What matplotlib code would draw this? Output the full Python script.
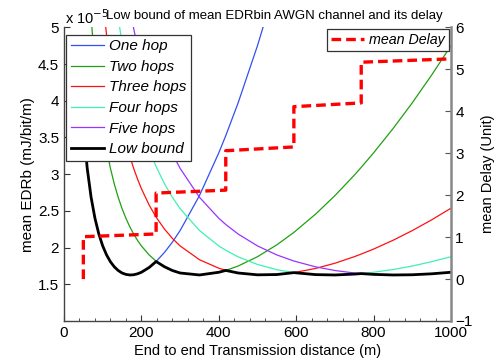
import matplotlib
matplotlib.use('Agg')
import matplotlib.pyplot as plt
import numpy as np
from matplotlib.ticker import MultipleLocator

# ---- data (EDRb in units of 1e-5 mJ/bit/m) ----
distance = [50, 60, 70, 80, 90, 100, 110, 120, 130, 140, 150, 160, 170, 180, 190, 200,
            220, 238, 260, 280, 300, 350, 400, 418, 450, 500, 550, 594, 650, 700, 750,
            768, 800, 850, 900, 950, 1000]
one_hop = [3.645, 3.080, 2.686, 2.399, 2.185, 2.023, 1.900, 1.807, 1.738, 1.688, 1.654,
           1.635, 1.627, 1.630, 1.643, 1.664, 1.729, 1.810, 1.937, 2.074, 2.232, 2.708,
           3.291, 3.525, 3.973, 4.752, 5.623, 6.465, 7.639, 8.781, 10.011, 10.476,
           11.330, 12.737, 14.231, 15.812, 17.480]
two_hops = [7.115, 5.952, 5.124, 4.505, 4.026, 3.645, 3.336, 3.080, 2.866, 2.686, 2.531,
            2.399, 2.284, 2.185, 2.098, 2.023, 1.900, 1.815, 1.738, 1.688, 1.654, 1.627,
            1.664, 1.689, 1.749, 1.876, 2.038, 2.207, 2.456, 2.708, 2.986, 3.093, 3.291,
            3.620, 3.973, 4.351, 4.752]
three_hops = [10.610, 8.862, 7.614, 6.678, 5.952, 5.372, 4.899, 4.505, 4.173, 3.890,
              3.645, 3.432, 3.245, 3.080, 2.934, 2.803, 2.580, 2.415, 2.250, 2.126, 2.023,
              1.835, 1.719, 1.691, 1.654, 1.629, 1.633, 1.659, 1.716, 1.787, 1.876, 1.912,
              1.980, 2.099, 2.232, 2.378, 2.537]
four_hops = [14.110, 11.777, 10.111, 8.862, 7.891, 7.115, 6.480, 5.952, 5.506, 5.124,
             4.793, 4.505, 4.251, 4.026, 3.825, 3.645, 3.336, 3.104, 2.866, 2.686, 2.531,
             2.233, 2.023, 1.963, 1.874, 1.770, 1.699, 1.659, 1.632, 1.627, 1.639, 1.646,
             1.664, 1.701, 1.749, 1.808, 1.876]
five_hops = [17.611, 14.694, 12.610, 11.048, 9.833, 8.862, 8.067, 7.406, 6.846, 6.367,
             5.952, 5.589, 5.270, 4.986, 4.733, 4.505, 4.113, 3.818, 3.514, 3.281, 3.080,
             2.686, 2.399, 2.315, 2.185, 2.023, 1.900, 1.817, 1.738, 1.688, 1.654, 1.646,
             1.635, 1.627, 1.630, 1.643, 1.664]

delay_distance = [50, 50, 238, 238, 418, 418, 594, 594, 768, 768, 1000]
mean_delay = [0.0, 1.01, 1.075, 2.05, 2.12, 3.06, 3.15, 4.11, 4.20, 5.17, 5.25]

series_labels = ['One hop', 'Two hops', 'Three hops', 'Four hops', 'Five hops']
series_colors = ['#3050f0', '#20a010', '#ff1010', '#40f0b0', '#9933ff']

plt.rcParams['font.family'] = ['Liberation Sans', 'DejaVu Sans']

fig = plt.figure(figsize=(4.98, 3.61), dpi=100)
ax = fig.add_axes([64/498, 1-321/361, 387/498, 293.6/361])

d = np.array(distance)
all_series = [one_hop, two_hops, three_hops, four_hops, five_hops]
for vals, lab, col in zip(all_series, series_labels, series_colors):
    ax.plot(d, vals, color=col, lw=0.9, label=lab)
low_bound = np.min(np.array(all_series), axis=0)
ax.plot(d, low_bound, color='black', lw=2.0, label='Low bound')

ax.set_xlim(0, 1000)
ax.set_ylim(1, 5)
ax.set_xticks([0, 200, 400, 600, 800, 1000])
ax.set_yticks([1.5, 2, 2.5, 3, 3.5, 4, 4.5, 5])
ax.set_yticklabels(['1.5', '2', '2.5', '3', '3.5', '4', '4.5', '5'])
ax.xaxis.set_minor_locator(MultipleLocator(40))
ax.tick_params(axis='both', which='both', direction='in', labelsize=11, color='#333333')
ax.tick_params(which='major', length=4)
ax.tick_params(which='minor', length=2.5)
ax.tick_params(axis='y', right=False)
ax.spines['top'].set_visible(False)
ax.spines['right'].set_visible(False)
for s in ['left', 'bottom']:
    ax.spines[s].set_color('#444444')
    ax.spines[s].set_linewidth(1.0)
ax.set_xlabel('End to end Transmission distance (m)', fontsize=10.5, labelpad=3)
ax.set_ylabel('mean EDRb (mJ/bit/m)', fontsize=11, labelpad=2)

leg1 = ax.legend(loc='upper left', bbox_to_anchor=(0.005, 0.975), prop={'style': 'italic', 'size': 11},
                 frameon=True, fancybox=False, framealpha=1, edgecolor='#333333',
                 handlelength=2.2, handletextpad=0.35, labelspacing=0.43, borderpad=0.3,
                 borderaxespad=0)
leg1.get_frame().set_linewidth(0.9)

ax2 = ax.twinx()
ax2.plot(delay_distance, mean_delay, color='red', lw=2.4, ls=(0, (2.9, 1.5)), label='mean Delay')
ax2.set_ylim(-1, 6)
ax2.set_yticks(range(-1, 7))
ax2.tick_params(axis='y', direction='in', labelsize=11, color='#555555', length=4, pad=3)
ax2.spines['top'].set_visible(False)
ax2.spines['left'].set_visible(False)
ax2.spines['bottom'].set_visible(False)
ax2.spines['right'].set_color('#888888')
ax2.spines['right'].set_linewidth(1.8)
ax2.set_ylabel('mean Delay (Unit)', fontsize=10.5, labelpad=6)
leg2 = ax2.legend(loc='upper right', bbox_to_anchor=(0.995, 0.995), prop={'style': 'italic', 'size': 10.3},
                  frameon=True, fancybox=False, framealpha=1, edgecolor='#333333',
                  handlelength=2.3, handletextpad=0.35, borderpad=0.3, borderaxespad=0)
leg2.get_frame().set_linewidth(0.9)

fig.text(65/498, 1-18/361, r'x 10$^{-5}$', fontsize=10.5, ha='left', va='center')
fig.text(106/498, 1-16/361, 'Low bound of mean EDRbin AWGN channel and its delay',
         fontsize=9.5, ha='left', va='center')

fig.savefig('out.png', dpi=100)
